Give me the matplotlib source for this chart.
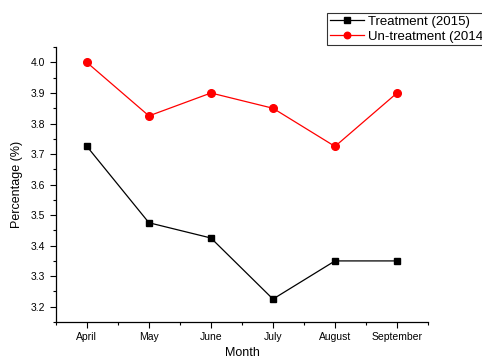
import matplotlib.pyplot as plt
from matplotlib.ticker import MultipleLocator

plt.rcParams['font.family'] = ['Liberation Sans', 'DejaVu Sans']

months = ['April', 'May', 'June', 'July', 'August', 'September']
treatment_2015 = [3.725, 3.475, 3.425, 3.225, 3.35, 3.35]
untreatment_2014 = [4.0, 3.825, 3.9, 3.85, 3.725, 3.9]

fig = plt.figure(figsize=(4.82, 3.63), dpi=100)
ax = fig.add_axes([0.116, 0.113, 0.772, 0.757])

x = list(range(len(months)))
ax.plot(x, treatment_2015, color='black', marker='s', markersize=4.5, linewidth=0.9,
        label='Treatment (2015)')
ax.plot(x, untreatment_2014, color='red', marker='o', markersize=5.5, linewidth=0.9,
        label='Un-treatment (2014)')

ax.set_xlim(-0.5, 5.5)
ax.set_ylim(3.15, 4.05)
ax.set_xticks(x)
ax.set_xticklabels(months)
ax.xaxis.set_minor_locator(MultipleLocator(0.5))
ax.yaxis.set_major_locator(MultipleLocator(0.1))
ax.yaxis.set_minor_locator(MultipleLocator(0.05))
ax.yaxis.set_major_formatter(plt.FormatStrFormatter('%.1f'))

for side in ('top', 'right'):
    ax.spines[side].set_visible(False)
for side in ('left', 'bottom'):
    ax.spines[side].set_linewidth(0.9)
ax.tick_params(which='major', direction='out', length=4, width=0.8, labelsize=7.5)
ax.tick_params(which='minor', direction='out', length=2.5, width=0.8)

ax.set_xlabel('Month', fontsize=9, labelpad=3)
ax.set_ylabel('Percentage (%)', fontsize=9, labelpad=6)

leg = fig.legend(loc='upper left', bbox_to_anchor=(327 / 482, 1 - 13 / 363),
                 fontsize=9.5, frameon=True, fancybox=False, borderpad=0.2,
                 handlelength=2.6, handletextpad=0.3, labelspacing=0.2,
                 borderaxespad=0, markerscale=0.85)
leg.get_frame().set_edgecolor('black')
leg.get_frame().set_linewidth(0.8)

fig.savefig('out.png', dpi=100)
